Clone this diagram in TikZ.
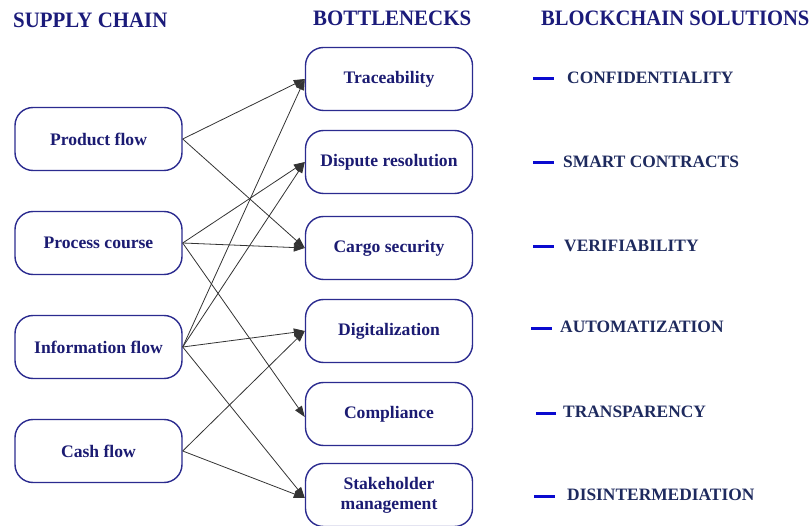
\documentclass[tikz,border=0pt]{standalone}
\usepackage{fontspec}
\setmainfont{Liberation Serif}
\usetikzlibrary{arrows.meta}
\definecolor{boxline}{HTML}{2B2B8F}
\definecolor{boxtext}{HTML}{1B1B72}
\definecolor{soltext}{HTML}{1E2A5E}
\definecolor{dashblue}{HTML}{0A0ACF}
\definecolor{headtext}{HTML}{1B1B7A}
\tikzset{
  flowbox/.style={draw=boxline, line width=1.4pt, rounded corners=18pt,
    minimum width=167pt, minimum height=63pt, inner sep=2pt, align=center,
    text=boxtext, font=\fontsize{17.6}{19}\selectfont\bfseries},
  header/.style={text=headtext, font=\fontsize{22}{24}\selectfont\bfseries, inner sep=0pt, anchor=west, xscale=0.95, transform shape},
  soltag/.style={text=soltext, font=\fontsize{17.4}{19}\selectfont\bfseries, inner sep=0pt, anchor=west},
  soldash/.style={draw=dashblue, line width=3pt},
  link/.style={draw=black!80, line width=0.8pt, -{Triangle[length=11pt,width=8pt]}}
}
\begin{document}
\begin{tikzpicture}[x=1pt,y=-1pt]
\useasboundingbox (0,0) rectangle (811,526);
% headers
\node[header] (h1) at (13,20) {SUPPLY CHAIN};
\node[header] (h2) at (313,18) {BOTTLENECKS};
\node[header, xscale=0.985] (h3) at (541,18) {BLOCKCHAIN SOLUTIONS};
% supply chain
\node[flowbox] (pf) at (98.5,139) {Product flow};
\node[flowbox] (pc) at (98.5,243) {Process course};
\node[flowbox] (inf) at (98.5,347) {Information flow};
\node[flowbox] (cf) at (98.5,451) {Cash flow};
% bottlenecks
\node[flowbox] (tr) at (389,79) {Traceability};
\node[flowbox] (dr) at (389,162) {Dispute resolution};
\node[flowbox] (cs) at (389,248) {Cargo security};
\node[flowbox] (dg) at (389,331) {Digitalization};
\node[flowbox] (cp) at (389,414) {Compliance};
\node[flowbox, font=\fontsize{17.6}{20}\selectfont\bfseries] (sm) at (389,495) {Stakeholder\\management};
% solutions
\coordinate (d1a) at (533,79); \coordinate (d1b) at (554,79);
\coordinate (d2a) at (533,163); \coordinate (d2b) at (554,163);
\coordinate (d3a) at (533,247); \coordinate (d3b) at (554,247);
\coordinate (d4a) at (531,329); \coordinate (d4b) at (552,329);
\coordinate (d5a) at (536,413); \coordinate (d5b) at (556,413);
\coordinate (d6a) at (534,496); \coordinate (d6b) at (555,496);
\draw[soldash] (d1a) -- (d1b);
\draw[soldash] (d2a) -- (d2b);
\draw[soldash] (d3a) -- (d3b);
\draw[soldash] (d4a) -- (d4b);
\draw[soldash] (d5a) -- (d5b);
\draw[soldash] (d6a) -- (d6b);
\node[soltag] (s1) at (567,78) {CONFIDENTIALITY};
\node[soltag] (s2) at (563,162) {SMART CONTRACTS};
\node[soltag] (s3) at (564,246) {VERIFIABILITY};
\node[soltag] (s4) at (560,327) {AUTOMATIZATION};
\node[soltag] (s5) at (563,412) {TRANSPARENCY};
\node[soltag] (s6) at (567,495) {DISINTERMEDIATION};
% links
\draw[link] (pf.east) -- (tr.west);
\draw[link] (pf.east) -- (cs.west);
\draw[link] (pc.east) -- (dr.west);
\draw[link] (pc.east) -- (cs.west);
\draw[link] (pc.east) -- ([yshift=-3pt]cp.west);
\draw[link] (inf.east) -- (tr.west);
\draw[link] (inf.east) -- (dr.west);
\draw[link] (inf.east) -- (dg.west);
\draw[link] (inf.east) -- ([yshift=-3pt]sm.west);
\draw[link] (cf.east) -- (dg.west);
\draw[link] (cf.east) -- ([yshift=-3pt]sm.west);
\end{tikzpicture}
\end{document}
